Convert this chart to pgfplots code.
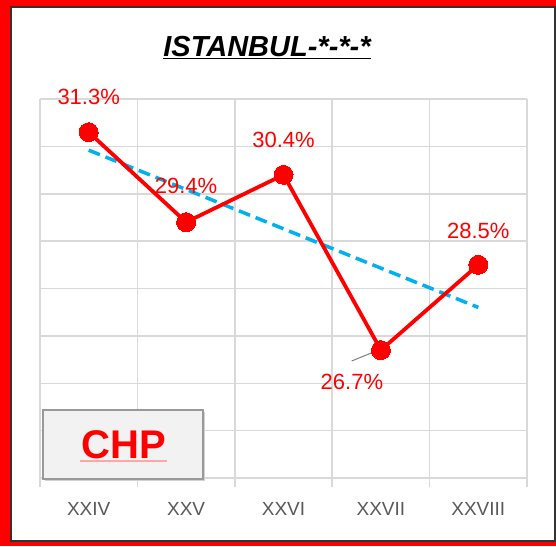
\documentclass[border=0pt]{standalone}
\usepackage{pgfplots}
\pgfplotsset{compat=1.18}
\usepackage{fontspec}
\setmainfont{Liberation Sans}
\definecolor{gridgray}{RGB}{217,217,217}
\definecolor{ticktext}{RGB}{89,89,89}
\definecolor{trendblue}{RGB}{0,176,240}
\definecolor{framegray}{RGB}{50,50,50}
\begin{document}
\begin{tikzpicture}[x=1pt,y=1pt]
\path[use as bounding box] (0,0) rectangle (556,546);
\fill[red] (0,0) rectangle (556,546);
\filldraw[fill=white, draw=framegray, line width=1.5pt] (11,5) rectangle (555,539);
\node[font=\fontsize{29}{32}\selectfont\bfseries\itshape, anchor=base] at (267,489) {\underline{ISTANBUL-*-*-*}};
\begin{axis}[
  at={(40pt,68pt)}, anchor=south west,
  width=487pt, height=379pt, scale only axis,
  xmin=-0.5, xmax=4.5, ymin=24, ymax=32,
  axis line style={draw=none},
  xtick={0,1,2,3,4},
  xticklabels={XXIV,XXV,XXVI,XXVII,XXVIII},
  minor xtick={-0.5,0.5,1.5,2.5,3.5,4.5},
  xminorgrids, ymajorgrids,
  minor grid style={gridgray, line width=1.5pt},
  major grid style={gridgray, line width=1.5pt},
  ytick={24,25,...,32}, yticklabels={},
  major tick length=0pt,
  minor tick length=9pt,
  tick align=outside,
  xtick pos=bottom, ytick pos=left,
  minor tick style={gridgray, line width=1.5pt},
  x tick label style={font=\fontsize{19}{21}\selectfont, text=ticktext, yshift=-21pt},
  clip=false,
]
\addplot[trendblue, line width=3.5pt, dash pattern=on 12pt off 6pt] coordinates {(0,30.92) (4,27.60)};
\addplot[red, line width=3.8pt, mark=*, mark size=9.5pt, mark options={solid, fill=red, draw=red, line width=0pt}] coordinates {
  (0,31.3) (1,29.4) (2,30.4) (3,26.7) (4,28.5)};
\draw[gray, line width=1pt] (axis cs:2.70,26.47) -- (axis cs:3.01,26.73);
\begin{scope}[every node/.style={font=\fontsize{22}{24}\selectfont, text=red}]
\node at (axis cs:0,31.3) [yshift=35pt] {31.3\%};
\node at (axis cs:1,29.4) [yshift=36pt] {29.4\%};
\node at (axis cs:2,30.4) [yshift=35pt] {30.4\%};
\node at (axis cs:3,26.7) [yshift=-32pt, xshift=-29pt] {26.7\%};
\node at (axis cs:4,28.5) [yshift=34pt] {28.5\%};
\end{scope}
\end{axis}
% CHP button
\fill[gray!35] (45,65) rectangle (205,134);
\filldraw[fill=gray!10, draw=gray!80, line width=1.2pt] (43,67) rectangle (203,136);
\draw[red!35, line width=1.5pt] (80,85) -- (167,85);
\node[font=\fontsize{40}{42}\selectfont\bfseries, text=red, anchor=base] at (124,88) {CHP};
\end{tikzpicture}
\end{document}
